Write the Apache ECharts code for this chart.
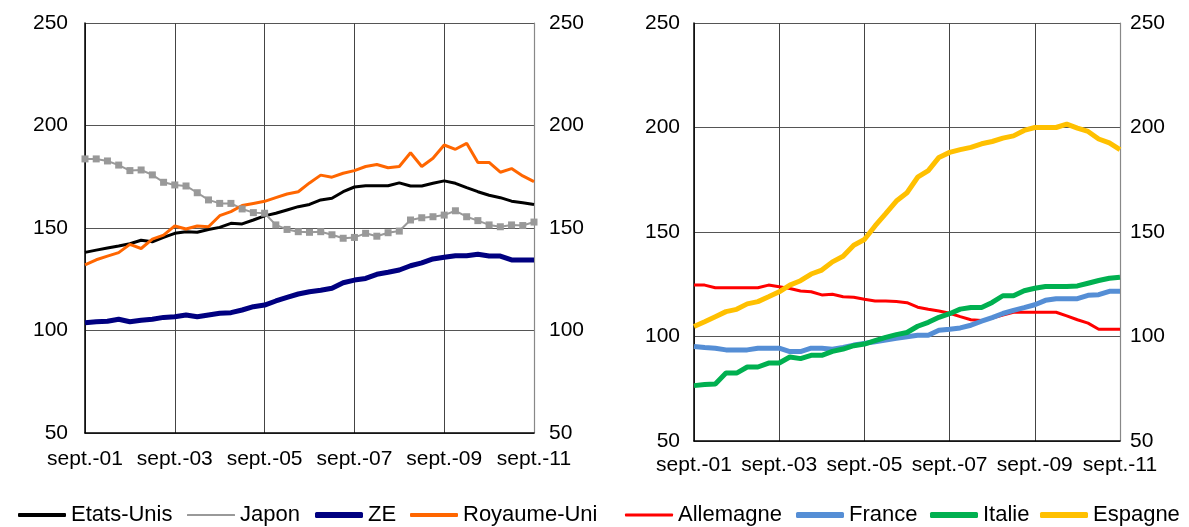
<!DOCTYPE html>
<html>
<head>
<meta charset="utf-8">
<script src="https://cdn.jsdelivr.net/npm/echarts@6/dist/echarts.min.js"></script>
<style>html,body{margin:0;padding:0;background:#fff;}#c{width:1189px;height:527px;}</style>
</head>
<body>
<div id="c"></div>
<script>
// Quarterly categories from sept.-01 to sept.-11
const quarterMonths = ['sept.', 'déc.', 'mars', 'juin'];
const categories = [];
for (let i = 0; i < 41; i++) {
  const m = quarterMonths[i % 4];
  const y = 2001 + Math.floor((i + 2) / 4);
  categories.push(m + '-' + String(y % 100).padStart(2, '0'));
}
const yTicks = [50, 100, 150, 200, 250];

const etatsUnis = [138.1,139.2,140.2,141.2,142.3,144,143.3,145.4,147.4,148.2,147.9,149.3,150.3,152.3,152,153.9,155.9,157.2,158.8,160.4,161.5,163.7,164.5,167.7,170,170.6,170.6,170.6,172,170.5,170.5,171.8,173,171.8,169.7,167.7,166,164.8,163.1,162.3,161.5];
const japon = [183.7,183.7,182.7,180.7,178,178.3,175.9,172.3,171,170.5,167.2,163.7,162,162,159.3,157.5,157.2,151.5,149.3,148.2,147.9,148.2,146.7,145,145.4,147.4,146,147.7,148.5,153.9,155,155.5,156.3,158.4,155.5,153.6,151.5,150.6,151.5,151.2,152.9];
const ze = [103.8,104.3,104.5,105.5,104.3,105,105.5,106.4,106.7,107.6,106.7,107.6,108.4,108.7,110,111.6,112.4,114.4,116.2,117.8,118.9,119.6,120.6,123.3,124.6,125.4,127.4,128.4,129.5,131.6,133,134.9,135.7,136.5,136.5,137.2,136.3,136.3,134.4,134.4,134.4];
const royaumeUni = [132,134.5,136.3,138,142,140,144.6,146.5,151,149.5,151,150.6,156,158,161,162,163,164.8,166.6,167.7,172,175.8,174.8,176.7,178,180,181,179.4,180,186.7,180,184,190.5,188.4,191.3,181.9,182,177.2,179,175.4,172.6];

const allemagne = [124.6,124.6,123.3,123.3,123.3,123.3,123.3,124.6,123.8,123,121.8,121.4,119.9,120.2,119,118.8,117.8,117,117,116.7,116.2,114,113,112.2,111.1,109.5,108,107.6,108.8,110.3,111.6,111.6,111.6,111.6,111.6,109.9,108,106.4,103.5,103.5,103.5];
const france = [95.2,94.7,94.4,93.6,93.6,93.6,94.4,94.4,94.4,92.8,92.8,94.4,94.4,93.9,94.8,95.9,96.7,97.5,98.3,99.1,99.9,100.6,100.6,103,103.5,104.1,105.4,107.3,109,111,112.5,113.8,115.2,117.3,118.1,118.1,118.1,119.7,120,121.6,121.6];
const italie = [76.5,77,77.3,82.5,82.5,85.4,85.4,87.3,87.3,90.2,89.4,91,91,92.9,94,95.6,96.4,98,99.6,100.9,101.9,104.9,106.8,109.2,110.9,113.1,113.9,113.9,116.3,119.5,119.5,121.9,123.1,123.9,123.9,123.9,124.2,125.5,126.8,127.9,128.4];
const espagne = [104.8,107.1,109.5,111.9,113,115.6,116.7,119,121.4,124.6,126.7,129.9,131.8,135.7,138.4,143.7,146.4,152.9,158.8,164.8,168.8,176.2,179.4,185.7,188.1,189.4,190.5,192.2,193.3,194.9,196,198.6,200,200,200,201.6,199.7,198.1,194.5,192.6,189.4];

const FONT = '"Liberation Sans", Arial, sans-serif';
const chart = echarts.init(document.getElementById('c'), null, {renderer: 'canvas'});

function xAxisDef(gridIndex, margin) {
  return {
    type: 'category', gridIndex: gridIndex, data: categories, boundaryGap: false,
    axisLine: {show: true, lineStyle: {color: '#000', width: 1.5}},
    axisTick: {show: false},
    axisLabel: {interval: 7, color: '#000', fontSize: 21, fontFamily: FONT, margin: margin},
    splitLine: {show: true, interval: 7, lineStyle: {color: '#444', width: 1}}
  };
}
function yAxisDef(gridIndex, pos, margin) {
  const left = pos === 'left';
  return {
    type: 'value', gridIndex: gridIndex, position: pos, min: yTicks[0], max: yTicks[yTicks.length - 1], interval: 50,
    axisLine: {show: true, lineStyle: {color: left ? '#000' : '#888', width: left ? 1.5 : 1.2}},
    axisTick: {show: false},
    axisLabel: {color: '#000', fontSize: 21, fontFamily: FONT, margin: margin},
    splitLine: {show: left, lineStyle: {color: '#555', width: 1}}
  };
}
function line(name, data, color, width, xi, yi, extra) {
  return Object.assign({
    name: name, type: 'line', data: data, xAxisIndex: xi, yAxisIndex: yi,
    symbol: 'none', showSymbol: false, color: color,
    lineStyle: {color: color, width: width}, z: 3
  }, extra || {});
}
function legendAt(name, left, thick) {
  return {
    data: [{name: name, icon: 'roundRect'}], left: left, top: 504, itemWidth: 48, itemHeight: thick, itemGap: 0, padding: 0,
    textStyle: {color: '#000', fontSize: 22, fontFamily: FONT, padding: [0, 0, 0, 0]}
  };
}

chart.setOption({
  animation: false,
  backgroundColor: '#fff',
  grid: [
    {left: 85, right: 655, top: 23, bottom: 94},
    {left: 694, right: 69, top: 23, bottom: 86}
  ],
  xAxis: [xAxisDef(0, 16), xAxisDef(1, 14)],
  yAxis: [yAxisDef(0, 'left', 17), yAxisDef(0, 'right', 15), yAxisDef(1, 'left', 14), yAxisDef(1, 'right', 10)],
  legend: [
    legendAt('Etats-Unis', 18, 4), legendAt('Japon', 187, 2), legendAt('ZE', 315, 6), legendAt('Royaume-Uni', 410, 4),
    legendAt('Allemagne', 625, 3), legendAt('France', 796, 6), legendAt('Italie', 930, 6), legendAt('Espagne', 1040, 6)
  ],
  series: [
    line('Etats-Unis', etatsUnis, '#000000', 3, 0, 0),
    line('Japon', japon, '#999999', 2, 0, 0, {symbol: 'rect', showSymbol: true, symbolSize: 7, itemStyle: {color: '#999999'}}),
    line('ZE', ze, '#000080', 5, 0, 0),
    line('Royaume-Uni', royaumeUni, '#FF6600', 3, 0, 0),
    line('Allemagne', allemagne, '#FF0000', 3, 1, 2),
    line('France', france, '#558ED5', 5, 1, 2),
    line('Italie', italie, '#00B050', 5, 1, 2),
    line('Espagne', espagne, '#FFC000', 5, 1, 2)
  ]
});
</script>
</body>
</html>
